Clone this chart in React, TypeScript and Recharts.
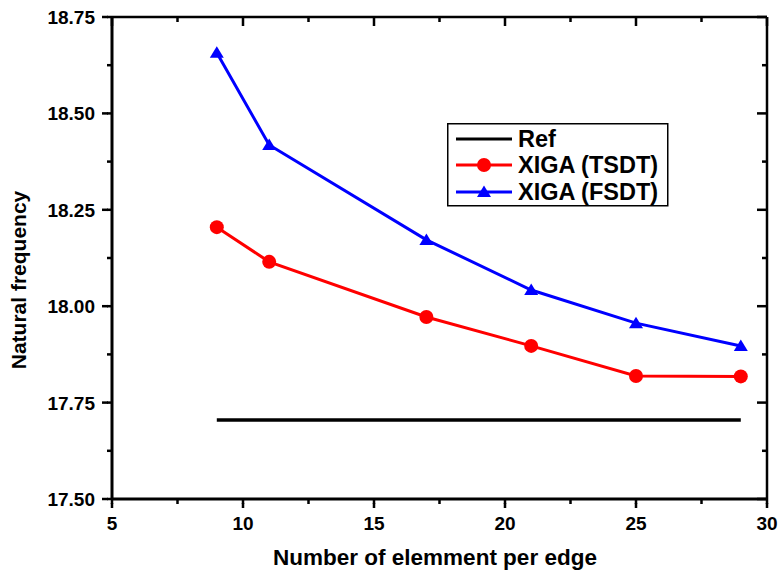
import { CartesianGrid, Label, Legend, Line, LineChart, ReferenceLine, XAxis, YAxis } from "recharts";

const elements = [9, 11, 17, 21, 25, 29];
const refFreq = [17.705, 17.705, 17.705, 17.705, 17.705, 17.705];
const tsdtFreq = [18.205, 18.115, 17.972, 17.897, 17.819, 17.818];
const fsdtFreq = [18.657, 18.418, 18.172, 18.042, 17.956, 17.897];

const xDomain = [5, 30];
const yDomain = [17.5, 18.75];
const xTicks = [5, 7.5, 10, 12.5, 15, 17.5, 20, 22.5, 25, 27.5, 30];
const yTicks = [17.5, 17.625, 17.75, 17.875, 18, 18.125, 18.25, 18.375, 18.5, 18.625, 18.75];

const legendOrder = ["ref", "tsdt", "fsdt"];

const FONT = '"Liberation Sans", Arial, sans-serif';
const TICK_W = 2.5;
const MINOR = 5; // drawn by the axis itself
const MAJOR = 9; // majors get extended by the custom tick

const data = elements.map((n, i) => ({
  n,
  ref: refFreq[i],
  tsdt: tsdtFreq[i],
  fsdt: fsdtFreq[i],
}));

const majorX = (v: number) => v % 5 === 0;
const majorY = (v: number) => Math.abs(v * 4 - Math.round(v * 4)) < 1e-9;

const axisLine = { stroke: "#000", strokeWidth: 3 };
const tickLine = { stroke: "#000", strokeWidth: TICK_W };

// x, y arrive at the outer end of the short axis tick
function BottomTick({ x, y, payload }: any) {
  if (!majorX(payload.value)) return <g />;
  return (
    <g>
      <rect x={x - TICK_W / 2} y={y - 1} width={TICK_W} height={MAJOR - MINOR + 1} fill="#000" />
      <text x={x} y={y + 26} textAnchor="middle" fontFamily={FONT} fontWeight="bold" fontSize={19} fill="#000">
        {payload.value}
      </text>
    </g>
  );
}

function LeftTick({ x, y, payload }: any) {
  if (!majorY(payload.value)) return <g />;
  return (
    <g>
      <rect x={x - (MAJOR + 1 - MINOR)} y={y - TICK_W / 2} width={MAJOR + 2 - MINOR} height={TICK_W} fill="#000" />
      <text x={x - 12} y={y + 7} textAnchor="end" fontFamily={FONT} fontWeight="bold" fontSize={19} fill="#000">
        {payload.value.toFixed(2)}
      </text>
    </g>
  );
}

// inward ticks along the top edge of the frame
function TopTicks(p: any) {
  const left = Math.min(p.x1, p.x2);
  const span = Math.abs(p.x2 - p.x1);
  return (
    <g>
      {xTicks.map((v) => (
        <rect
          key={v}
          x={left + ((v - xDomain[0]) / (xDomain[1] - xDomain[0])) * span - TICK_W / 2}
          y={p.y1}
          width={TICK_W}
          height={majorX(v) ? MAJOR : MINOR}
          fill="#000"
        />
      ))}
    </g>
  );
}

// inward ticks along the right edge of the frame
function RightTicks(p: any) {
  const bottom = Math.max(p.y1, p.y2);
  const span = Math.abs(p.y2 - p.y1);
  return (
    <g>
      {yTicks.map((v) => {
        const len = majorY(v) ? MAJOR + 1 : MINOR;
        return (
          <rect
            key={v}
            x={p.x1 - len}
            y={bottom - ((v - yDomain[0]) / (yDomain[1] - yDomain[0])) * span - TICK_W / 2}
            width={len}
            height={TICK_W}
            fill="#000"
          />
        );
      })}
    </g>
  );
}

function CircleDot({ cx, cy }: any) {
  return <circle cx={cx} cy={cy} r={7} fill="#ff0000" />;
}

function TriangleDot({ cx, cy }: any) {
  return <polygon points={`${cx},${cy - 6.5} ${cx - 7},${cy + 5} ${cx + 7},${cy + 5}`} fill="#0000ff" />;
}

function LegendBox({ payload }: any) {
  const rowY = [16, 42, 69];
  const items = [...(payload ?? [])].sort(
    (a: any, b: any) => legendOrder.indexOf(a.dataKey) - legendOrder.indexOf(b.dataKey)
  );
  return (
    <svg width={222} height={84} style={{ display: "block" }}>
      <rect x={0.75} y={0.75} width={220} height={82} fill="#fff" stroke="#000" strokeWidth={1.5} />
      {items.map((item: any, i: number) => {
        const y = rowY[i];
        return (
          <g key={item.dataKey}>
            <line x1={9} y1={y} x2={65} y2={y} stroke={item.color} strokeWidth={3} />
            {item.dataKey === "tsdt" && <circle cx={37} cy={y} r={7} fill={item.color} />}
            {item.dataKey === "fsdt" && (
              <polygon points={`37,${y - 6.5} 30,${y + 5} 44,${y + 5}`} fill={item.color} />
            )}
            <text x={71} y={y + 8} fontFamily={FONT} fontWeight="bold" fontSize={23.5} fill="#000">
              {item.value}
            </text>
          </g>
        );
      })}
    </svg>
  );
}

export default function App() {
  return (
    <div style={{ position: "absolute", left: 0, top: 0, width: 780, height: 574, background: "#fff" }}>
      <LineChart width={780} height={574} data={data} margin={{ top: 17, right: 13, bottom: 0, left: 0 }}>
        {/* top and right edges of the frame */}
        <CartesianGrid
          horizontalValues={[yDomain[1]]}
          verticalValues={[xDomain[1]]}
          stroke="#000"
          strokeWidth={2.5}
          strokeDasharray=""
        />
        <XAxis
          dataKey="n"
          type="number"
          domain={xDomain}
          ticks={xTicks}
          interval={0}
          height={75}
          axisLine={axisLine}
          tickLine={tickLine}
          tickSize={MINOR}
          tickMargin={0}
          tick={<BottomTick />}
        >
          <Label
            content={() => (
              <text x={435} y={565} textAnchor="middle" fontFamily={FONT} fontWeight="bold" fontSize={22.5} fill="#000">
                Number of elemment per edge
              </text>
            )}
          />
        </XAxis>
        <YAxis
          type="number"
          domain={yDomain}
          ticks={yTicks}
          interval={0}
          width={112}
          axisLine={axisLine}
          tickLine={tickLine}
          tickSize={MINOR}
          tickMargin={0}
          tick={<LeftTick />}
        >
          <Label
            content={() => (
              <text
                x={26}
                y={280}
                transform="rotate(-90 26 280)"
                textAnchor="middle"
                fontFamily={FONT}
                fontWeight="bold"
                fontSize={21}
                fill="#000"
              >
                Natural frequency
              </text>
            )}
          />
        </YAxis>
        <ReferenceLine
          y={yDomain[1]}
          ifOverflow="visible"
          stroke="#000"
          strokeWidth={2.5}
          shape={(p: any) => <TopTicks {...p} />}
        />
        <ReferenceLine
          x={xDomain[1]}
          ifOverflow="visible"
          stroke="#000"
          strokeWidth={2.5}
          shape={(p: any) => <RightTicks {...p} />}
        />
        <Legend
          verticalAlign="middle"
          align="center"
          content={<LegendBox />}
          wrapperStyle={{ left: 447, top: 123, width: 222, height: 84 }}
        />
        <Line
          dataKey="ref"
          name="Ref"
          stroke="#000000"
          strokeWidth={3.5}
          dot={false}
          activeDot={false}
          isAnimationActive={false}
        />
        <Line
          dataKey="tsdt"
          name="XIGA (TSDT)"
          stroke="#ff0000"
          strokeWidth={3}
          dot={<CircleDot />}
          activeDot={false}
          isAnimationActive={false}
        />
        <Line
          dataKey="fsdt"
          name="XIGA (FSDT)"
          stroke="#0000ff"
          strokeWidth={3}
          dot={<TriangleDot />}
          activeDot={false}
          isAnimationActive={false}
        />
      </LineChart>
    </div>
  );
}
